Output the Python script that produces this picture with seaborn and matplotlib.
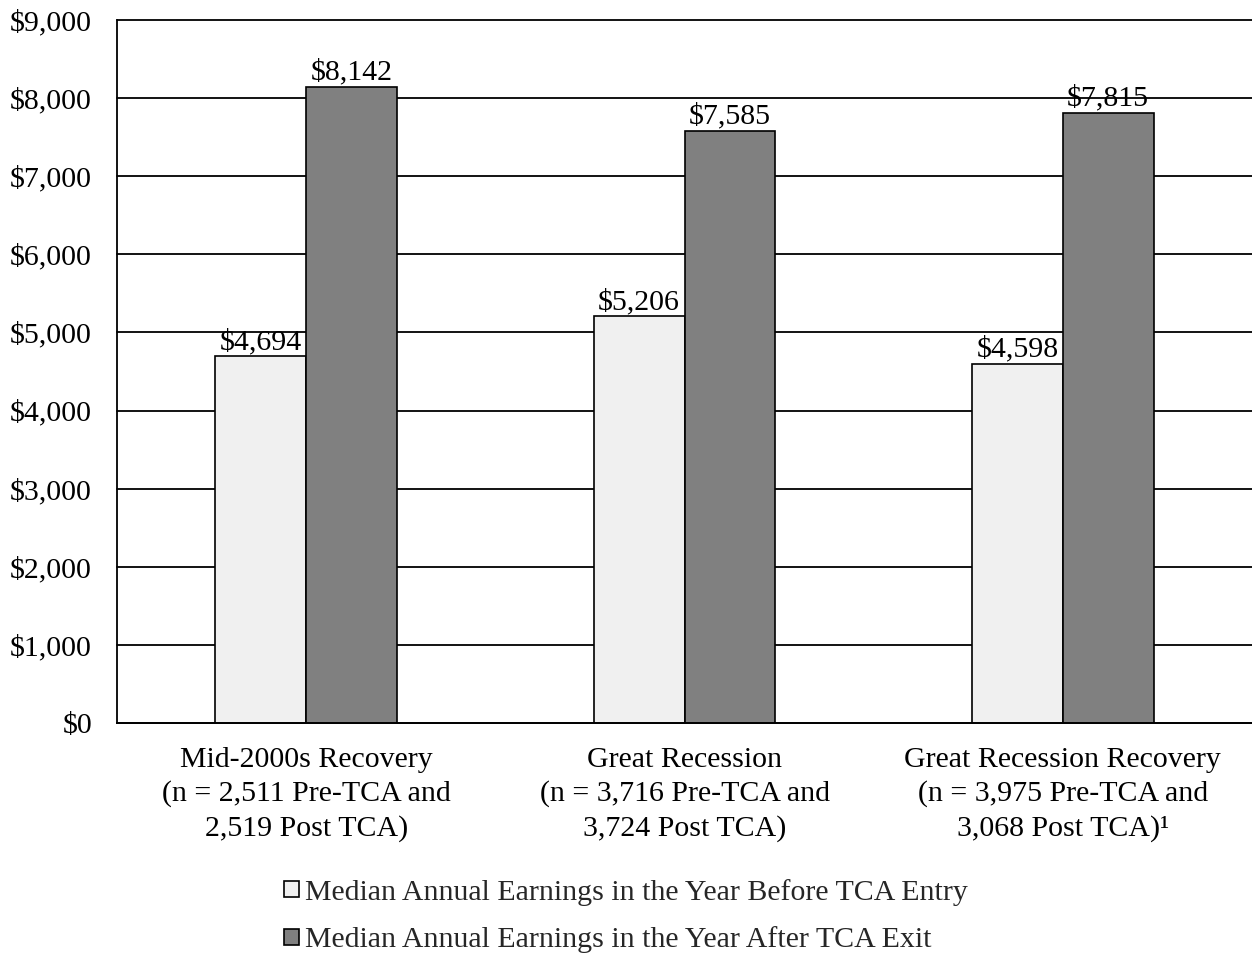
import matplotlib
matplotlib.use("Agg")
import matplotlib.pyplot as plt
import seaborn as sns
import pandas as pd
from matplotlib.ticker import FuncFormatter

categories = [
    "Mid-2000s Recovery\n(n = 2,511 Pre-TCA and\n2,519 Post TCA)",
    "Great Recession\n(n = 3,716 Pre-TCA and\n3,724 Post TCA)",
    "Great Recession Recovery\n(n = 3,975 Pre-TCA and\n3,068 Post TCA)\u00b9",
]
series = [
    "Median Annual Earnings in the Year Before TCA Entry",
    "Median Annual Earnings in the Year After TCA Exit",
]
before_values = [4694, 5206, 4598]
after_values = [8142, 7585, 7815]
colors = ["#f0f0f0", "#808080"]

df = pd.DataFrame({
    "category": categories * 2,
    "series": [series[0]] * 3 + [series[1]] * 3,
    "value": before_values + after_values,
})

sns.set_theme(style="white")
plt.rcParams["font.family"] = ["Liberation Serif", "DejaVu Serif"]
FS = 21.5

fig = plt.figure(figsize=(12.52, 9.59), dpi=100)
ax = fig.add_axes([117 / 1252, 1 - 723 / 959, 1 - 117 / 1252, (723 - 20) / 959])

sns.barplot(data=df, x="category", y="value", hue="series", palette=colors,
            width=0.48, edgecolor="black", linewidth=1.2, ax=ax, legend=True,
            errorbar=None, saturation=1)

for cont in ax.containers:
    ax.bar_label(cont, labels=[f"${v:,.0f}" for v in cont.datavalues],
                 fontsize=FS, padding=1, color="black")

ax.set_ylim(0, 9000)
ax.set_xlim(-0.5, 2.5)
ax.set_yticks(range(0, 9001, 1000))
ax.yaxis.set_major_formatter(FuncFormatter(lambda v, p: f"${v:,.0f}"))
ax.yaxis.grid(True, color="black", linewidth=1.3)
for gl in ax.get_ygridlines():
    gl.set_clip_on(False)
ax.set_axisbelow(True)
for s in ["top", "right"]:
    ax.spines[s].set_visible(False)
ax.spines["left"].set_color("black")
ax.spines["left"].set_linewidth(1.3)
ax.spines["bottom"].set_color("black")
ax.spines["bottom"].set_linewidth(1.3)
ax.tick_params(axis="y", length=0, pad=18, labelsize=FS, colors="black")
ax.tick_params(axis="x", length=0, pad=17, labelsize=FS, colors="black")
for t in ax.get_xticklabels():
    t.set_linespacing(1.38)
ax.set_xlabel("")
ax.set_ylabel("")

handles, labels = ax.get_legend_handles_labels()
ax.get_legend().remove()
fig.legend(handles, labels, loc="upper left", bbox_to_anchor=(284 / 1252, 1 - 879 / 959),
           frameon=False, fontsize=FS, handlelength=0.5, handleheight=0.45,
           handletextpad=0.2, labelspacing=0.68, borderaxespad=0, borderpad=0)

fig.savefig("out.png", dpi=100)
